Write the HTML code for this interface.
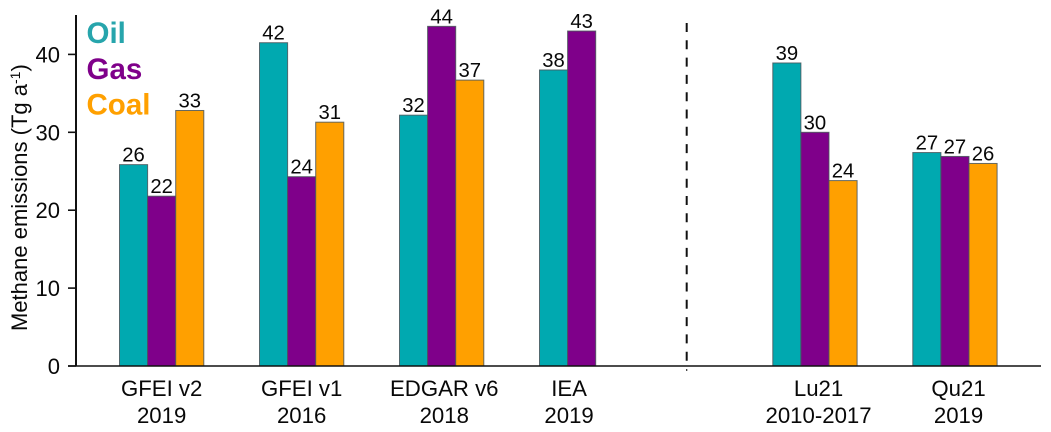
<!DOCTYPE html>
<html>
<head>
<meta charset="utf-8">
<style>
html,body{margin:0;padding:0;background:#fff;width:1051px;height:432px;overflow:hidden}
svg{display:block}
text{font-family:"Liberation Sans",Arial,sans-serif;fill:#080808}
</style>
</head>
<body>
<svg id="chart" width="1051" height="432" viewBox="0 0 1051 432" xmlns="http://www.w3.org/2000/svg"></svg>
<script>
const categories = ["GFEI v2", "GFEI v1", "EDGAR v6", "IEA", "Lu21", "Qu21"];
const periods = ["2019", "2016", "2018", "2019", "2010-2017", "2019"];
const oilValues = [25.85, 41.5, 32.2, 38, 38.9, 27.4];
const gasValues = [21.8, 24.3, 43.6, 43, 30, 26.9];
const coalValues = [32.8, 31.3, 36.7, null, 23.8, 26];
const yTicks = [0, 10, 20, 30, 40];
const legendLabels = ["Oil", "Gas", "Coal"];
const dividerAfter = 3;

const seriesList = [
  {name: "oil", color: "#00A9B0", text: "#27A5AC", values: oilValues},
  {name: "gas", color: "#7F008A", text: "#7F008A", values: gasValues},
  {name: "coal", color: "#FFA000", text: "#FFA000", values: coalValues}
];

const NS = "http://www.w3.org/2000/svg";
const svg = document.getElementById("chart");

function yScale(v) { return 366 - v * 7.79; }
function groupLeft(i) { return 119.5 + i * 140 + (i > dividerAfter ? 93.3 : 0); }
const barW = 28.1;

function labelNudge(i) {
  if (i < 2) return 0;
  if (i === 2) return 2.6;
  if (i === 3) return 1.5;
  return 3.6;
}

function add(tag, attrs, txt) {
  const el = document.createElementNS(NS, tag);
  for (const k in attrs) el.setAttribute(k, attrs[k]);
  if (txt !== undefined) el.textContent = txt;
  svg.appendChild(el);
  return el;
}

// bars
categories.forEach(function (cat, i) {
  let barCount = 0;
  seriesList.forEach(function (s, j) {
    const v = s.values[i];
    if (v === null) return;
    barCount += 1;
    const x = groupLeft(i) + j * barW;
    const y = yScale(v);
    const bar = add("rect", {x: x, y: y, width: barW, height: yScale(0) - y, fill: s.color, stroke: "#4a565c", "stroke-opacity": 0.85, "stroke-width": 1});
    
    
    const lab = add("text", {x: x + barW / 2, y: y - 3, "text-anchor": "middle", "font-size": 20.3}, String(Math.round(v)));
    
    
  });
  const cx = groupLeft(i) + barW * barCount / 2 + labelNudge(i);
  const l1 = add("text", {x: cx, y: 396, "text-anchor": "middle", "font-size": 22.2}, cat);
  
  
  const l2 = add("text", {x: cx, y: 423, "text-anchor": "middle", "font-size": 22.2}, periods[i]);
  
  
});

// axes
const yAxis = add("line", {x1: 76, y1: 15, x2: 76, y2: 366, stroke: "#111", "stroke-width": 2});


const xAxis = add("line", {x1: 68, y1: 366, x2: 1041, y2: 366, stroke: "#111", "stroke-width": 1.6});



yTicks.forEach(function (t) {
  const y = yScale(t);
  const tick = add("line", {x1: 68, y1: y, x2: 76, y2: y, stroke: "#111", "stroke-width": 1.6});
  
  
  const lab = add("text", {x: 60, y: y + 8, "text-anchor": "end", "font-size": 22}, String(t));
  
  
});

// y axis title
const title = add("text", {transform: "translate(27,331) rotate(-90)", "font-size": 22});


title.appendChild(document.createTextNode("Methane emissions (Tg a"));
const sup = document.createElementNS(NS, "tspan");
sup.setAttribute("dy", "-7");
sup.setAttribute("font-size", "14");
sup.textContent = "-1";
title.appendChild(sup);
const close = document.createElementNS(NS, "tspan");
close.setAttribute("dy", "7");
close.textContent = ")";
title.appendChild(close);

// divider
const dx = 686.7;
const divider = add("line", {x1: dx, y1: 23, x2: dx, y2: 366, stroke: "#111", "stroke-width": 2, "stroke-dasharray": "9 8.3"});


const dtick = add("line", {x1: dx, y1: 369, x2: dx, y2: 371, stroke: "#333", "stroke-width": 1.2});



// legend
legendLabels.forEach(function (name, i) {
  const t = add("text", {x: 86.5, y: 43 + i * 35.8, "font-size": 29.5, "font-weight": "bold"}, name);
  t.style.fill = seriesList[i].text;
  
  
});
</script>
</body>
</html>
